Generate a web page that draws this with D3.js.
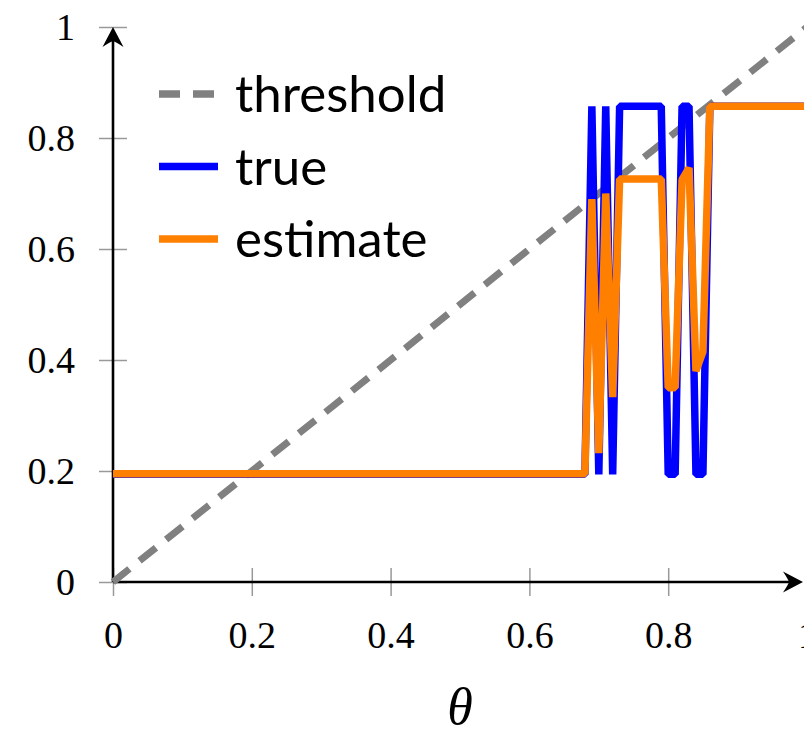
<!DOCTYPE html>
<meta charset="utf-8">
<style>
body { margin: 0; background: #fff; }
.tick text { font-family: "Liberation Serif", serif; font-size: 38px; fill: #000; }
.tick line { stroke: #999; stroke-width: 1.5px; }
.legend text { font-family: Lato, sans-serif; font-size: 51px; fill: #000; }
</style>
<svg width="804" height="730"></svg>
<script src="https://d3js.org/d3.v7.min.js"></script>
<script>

// theta sample points (flat stretches only keep their ends)
var theta = [0, 0.68, 0.69, 0.70, 0.71, 0.72, 0.73, 0.79, 0.80, 0.81, 0.82, 0.83, 0.84, 0.85, 0.86, 1.0];
var trueVals = [0.194, 0.194, 0.857, 0.194, 0.857, 0.194, 0.857, 0.857, 0.194, 0.194, 0.857, 0.857, 0.194, 0.194, 0.857, 0.857];
var estimateVals = [0.195, 0.195, 0.69, 0.232, 0.70, 0.333, 0.726, 0.726, 0.35, 0.35, 0.725, 0.746, 0.38, 0.415, 0.857, 0.857];
var thresholdPts = [0, 1];

var xTicks = [0, 0.2, 0.4, 0.6, 0.8, 1];
var xTickLabels = ["0", "0.2", "0.4", "0.6", "0.8", "1"];
var yTicks = [0, 0.2, 0.4, 0.6, 0.8, 1];
var yTickLabels = ["0", "0.2", "0.4", "0.6", "0.8", "1"];

var legendNames = ["threshold", "true", "estimate"];
var colours = {threshold: "#808080", "true": "#0000ff", estimate: "#ff8000"};

var svg = d3.select("svg");

var x = d3.scaleLinear().domain([0, 1]).range([113, 807]);
var y = d3.scaleLinear().domain([0, 1]).range([582, 27]);

//axes: ticks cross the axis line on both sides
var xAxis = d3.axisBottom(x).tickValues(xTicks)
    .tickFormat(function(d, i) { return xTickLabels[i]; })
    .tickSize(14).tickPadding(25);
var yAxis = d3.axisLeft(y).tickValues(yTicks)
    .tickFormat(function(d, i) { return yTickLabels[i]; })
    .tickSize(14).tickPadding(24);

var gx = svg.append("g").attr("transform", "translate(0," + y(0) + ")").call(xAxis);
gx.select(".domain").remove();
gx.selectAll(".tick line").attr("y1", -14).attr("y2", 14);

var gy = svg.append("g").attr("transform", "translate(" + x(0) + ",0)").call(yAxis);
gy.select(".domain").remove();
gy.selectAll(".tick line").attr("x1", 14).attr("x2", -14);

svg.selectAll(".tick text").attr("font-family", null).attr("font-size", null);

//axis lines with arrow heads
svg.append("line")
    .attr("x1", x(0)).attr("y1", y(0)).attr("x2", x(1) - 8).attr("y2", y(0))
    .attr("stroke", "#000").attr("stroke-width", 2.6);
svg.append("line")
    .attr("x1", x(0)).attr("y1", y(0)).attr("x2", x(0)).attr("y2", y(1) + 8)
    .attr("stroke", "#000").attr("stroke-width", 2.6);

function arrowHead(tx, ty, angle) {
  svg.append("path")
    .attr("d", "M0,0 L-20,-10.5 Q-15,-3 -14,0 Q-15,3 -20,10.5 Z")
    .attr("fill", "#000")
    .attr("transform", "translate(" + tx + "," + ty + ") rotate(" + angle + ")");
}
arrowHead(x(1) - 4, y(0), 0);
arrowHead(x(0), y(1), -90);

//data lines
var line = d3.line()
    .x(function(d) { return x(d[0]); })
    .y(function(d) { return y(d[1]); });

svg.append("path")
    .datum(thresholdPts.map(function(t) { return [t, t]; }))
    .attr("d", line)
    .attr("fill", "none")
    .attr("stroke", colours.threshold)
    .attr("stroke-width", 7)
    .attr("stroke-dasharray", "21,13");

svg.append("path")
    .datum(theta.map(function(t, i) { return [t, trueVals[i]]; }))
    .attr("d", line)
    .attr("fill", "none")
    .attr("stroke", colours["true"])
    .attr("stroke-width", 7.5)
    .attr("stroke-linejoin", "bevel");

svg.append("path")
    .datum(theta.map(function(t, i) { return [t, estimateVals[i]]; }))
    .attr("d", line)
    .attr("fill", "none")
    .attr("stroke", colours.estimate)
    .attr("stroke-width", 7.5)
    .attr("stroke-linejoin", "bevel");

//x label
svg.append("text")
    .attr("x", (x(0) + x(1)) / 2)
    .attr("y", 724)
    .attr("text-anchor", "middle")
    .style("font-family", "'Liberation Serif', serif")
    .style("font-style", "italic")
    .style("font-size", "52px")
    .text("θ");

//legend
var legend = svg.append("g").attr("class", "legend");
legendNames.forEach(function(name, i) {
  var ly = 94 + i * 72.5;
  legend.append("line")
      .attr("x1", 159).attr("x2", 218)
      .attr("y1", ly).attr("y2", ly)
      .attr("stroke", colours[name])
      .attr("stroke-width", 7.5)
      .attr("stroke-dasharray", name == "threshold" ? "21,13" : null);
  legend.append("text")
      .attr("x", 235)
      .attr("y", ly + 18)
      .text(name);
});

</script>
